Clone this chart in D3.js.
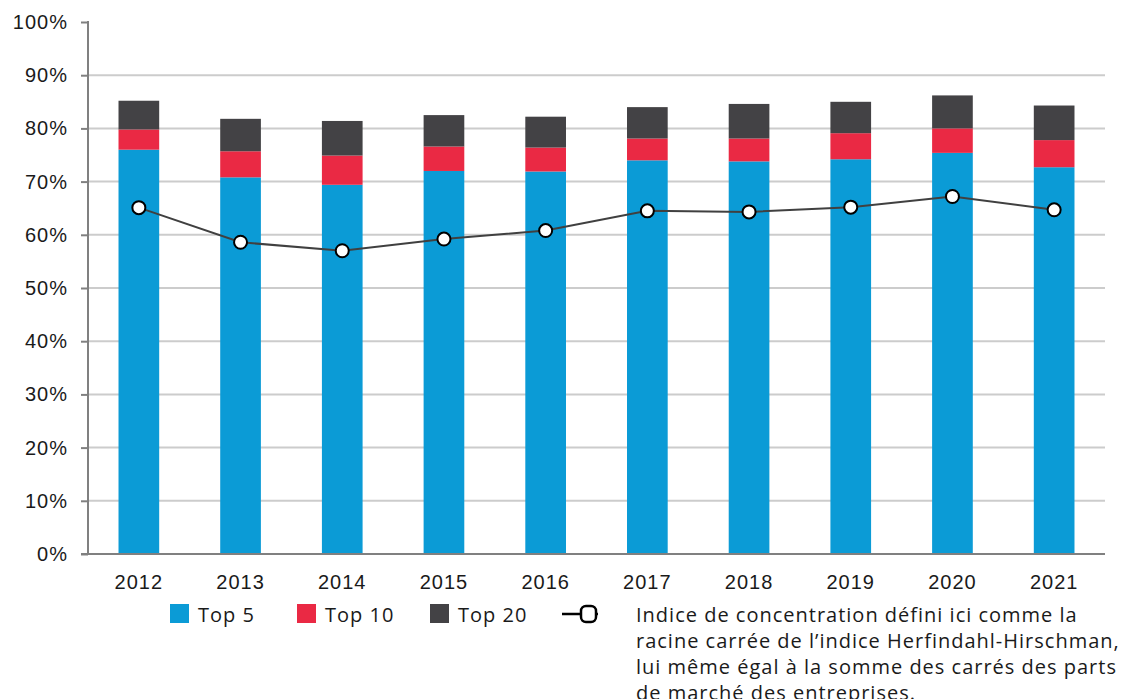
<!DOCTYPE html>
<html>
<head>
<meta charset="utf-8">
<script src="https://cdn.jsdelivr.net/npm/d3@7"></script>
<style>
  body { margin: 0; background: #fff; }
  svg { display: block; font-family: "Open Sans", sans-serif; }
  svg text { letter-spacing: 1px; }
</style>
</head>
<body>
<svg id="chart" width="1129" height="699"></svg>
<script>
const years = ["2012", "2013", "2014", "2015", "2016", "2017", "2018", "2019", "2020", "2021"]
// cumulative shares (%)
const top5 = [76.0, 70.8, 69.4, 72.0, 71.9, 74.0, 73.8, 74.2, 75.4, 72.7]
const top10 = [79.8, 75.7, 74.9, 76.6, 76.4, 78.1, 78.1, 79.1, 80.0, 77.8]
const top20 = [85.2, 81.8, 81.4, 82.5, 82.2, 84.0, 84.6, 85.0, 86.2, 84.3]
const indice = [65.1, 58.6, 57.0, 59.2, 60.8, 64.5, 64.3, 65.2, 67.2, 64.7]
const yTicks = [0, 10, 20, 30, 40, 50, 60, 70, 80, 90, 100]
const seriesNames = ["Top 5", "Top 10", "Top 20"]
const colors = ["#0b9bd6", "#ea2944", "#434245"]
const noteLines = [
  "Indice de concentration défini ici comme la",
  "racine carrée de l’indice Herfindahl-Hirschman,",
  "lui même égal à la somme des carrés des parts",
  "de marché des entreprises."
]

const width = 1129, height = 699
const margin = {left: 88, right: 24, top: 22, bottom: 145}
const fontSize = "20px"
const svg = d3.select("#chart")

const x = d3.scaleBand().domain(years).range([margin.left, width - margin.right]).paddingInner(0.6).paddingOuter(0.3)
const y = d3.scaleLinear().domain([0, 100]).range([height - margin.bottom, margin.top])

// grid
svg.append("g")
  .selectAll("line")
  .data(yTicks.filter(d => d > 0 && d < 100))
  .join("line")
  .attr("x1", margin.left).attr("x2", width - margin.right)
  .attr("y1", d => y(d)).attr("y2", d => y(d))
  .attr("stroke", "#cccccc").attr("stroke-width", 2)

// y axis
const yAxis = d3.axisLeft(y).tickValues(yTicks).tickSize(7).tickPadding(13).tickFormat(d => d + "%")
const yG = svg.append("g").attr("transform", `translate(${margin.left},0)`).call(yAxis)
yG.select(".domain").remove()
yG.selectAll(".tick line").attr("stroke", "#808080").attr("stroke-width", 2)
yG.selectAll(".tick text").attr("fill", "#1a1a1a").style("font-size", fontSize)
yG.append("line").attr("x1", 0).attr("x2", 0).attr("y1", y(100) - 1).attr("y2", y(0))
  .attr("stroke", "#808080").attr("stroke-width", 2)

// stacked bars
const stacks = [top5, top10, top20]
stacks.forEach((vals, i) => {
  svg.append("g").selectAll("rect")
    .data(years)
    .join("rect")
    .attr("x", d => x(d))
    .attr("width", x.bandwidth())
    .attr("y", (d, j) => y(vals[j]))
    .attr("height", (d, j) => y(i === 0 ? 0 : stacks[i - 1][j]) - y(vals[j]))
    .attr("fill", colors[i])
})

// x axis
svg.append("line")
  .attr("x1", margin.left - 7).attr("x2", width - margin.right)
  .attr("y1", y(0)).attr("y2", y(0))
  .attr("stroke", "#808080").attr("stroke-width", 2)
const xAxis = d3.axisBottom(x).tickSize(0).tickPadding(21)
const xG = svg.append("g").attr("transform", `translate(0,${y(0)})`).call(xAxis)
xG.select(".domain").remove()
xG.selectAll(".tick text").attr("fill", "#1a1a1a").style("font-size", fontSize)

// index line
const cx = d => x(d) + x.bandwidth() / 2
const line = d3.line().x((d, i) => cx(years[i])).y(d => y(d))
svg.append("path").datum(indice).attr("d", line)
  .attr("fill", "none").attr("stroke", "#404040").attr("stroke-width", 2)
svg.append("g").selectAll("circle")
  .data(indice)
  .join("circle")
  .attr("cx", (d, i) => cx(years[i]))
  .attr("cy", d => y(d))
  .attr("r", 6.5)
  .attr("fill", "#fff").attr("stroke", "#000").attr("stroke-width", 2)

// legend
const legendX = [170, 297, 430]
const leg = svg.append("g")
seriesNames.forEach((name, i) => {
  leg.append("rect").attr("x", legendX[i]).attr("y", 604).attr("width", 19).attr("height", 19).attr("fill", colors[i])
  leg.append("text").attr("x", legendX[i] + 28).attr("y", 622).text(name)
    .attr("fill", "#1a1a1a").style("font-size", fontSize)
})
leg.append("line").attr("x1", 562).attr("x2", 598).attr("y1", 614).attr("y2", 614)
  .attr("stroke", "#000").attr("stroke-width", 2.5)
leg.append("rect").attr("x", 581).attr("y", 606).attr("width", 15).attr("height", 16).attr("rx", 5)
  .attr("fill", "#fff").attr("stroke", "#000").attr("stroke-width", 2.5)
leg.append("g").selectAll("text")
  .data(noteLines)
  .join("text")
  .attr("x", 636)
  .attr("y", (d, i) => 622 + i * 26)
  .text(d => d)
  .attr("fill", "#1a1a1a").style("font-size", fontSize)
</script>
</body>
</html>
